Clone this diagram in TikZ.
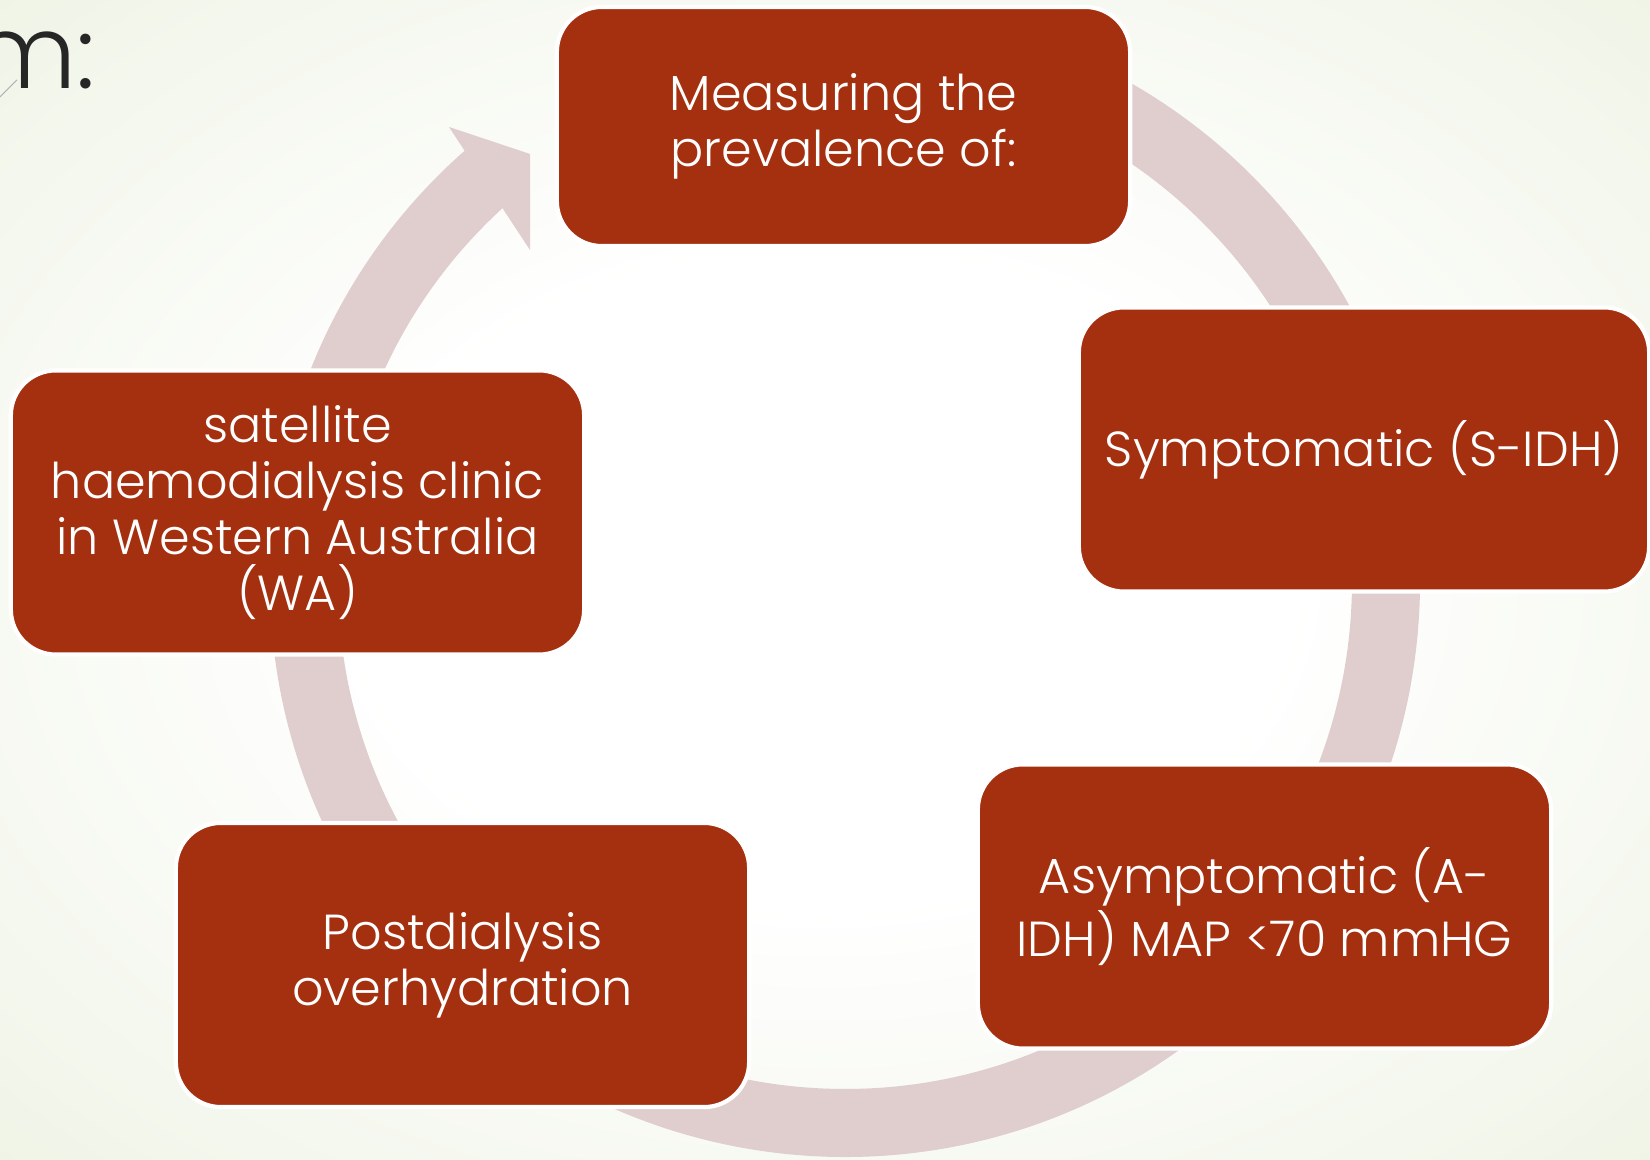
\documentclass[tikz,border=0pt]{standalone}
\usepackage{fontspec}
\setmainfont{Poppins Light}
\definecolor{boxred}{RGB}{165,48,16}
\definecolor{ringpink}{RGB}{224,205,205}
\definecolor{bggreen}{RGB}{226,234,208}
\definecolor{bgmid}{RGB}{238,243,228}
\definecolor{titlegray}{RGB}{38,38,38}
\pgfdeclareradialshading{bgglow}{\pgfpoint{0bp}{0bp}}{%
  color(0bp)=(white); color(14bp)=(white); color(38bp)=(bgmid); color(62bp)=(bggreen)}
\tikzset{
  stage/.style = {rectangle, rounded corners=0.45cm, fill=boxred,
                  draw=white, line width=1.2pt, text=white, align=center,
                  minimum width=5.73cm, minimum height=2.84cm, inner sep=0pt,
                  font=\fontsize{14}{16}\selectfont},
  ring/.style = {draw=ringpink, line width=0.68cm}
}
\begin{document}
\begin{tikzpicture}[x=0.01cm, y=0.01cm]
	\def \cx{845}
	\def \cy{578}
	\def \rr{541} % middle of the ring

	% Background
	\useasboundingbox (0,0) rectangle (1650,1160);
	\clip (0,0) rectangle (1650,1160);
	\shade[shading=bgglow] (0,0) rectangle (1650,1160);

	% Title (cut off)
	\draw[black!30, line width=0.3pt] (0,1063) -- (17,1080);
	\node[anchor=base east, text=titlegray, inner sep=0pt,
	      font=\fontsize{29}{30}\selectfont] (title) at (96,1071) {m:};

	% Ring
	\coordinate (centre) at (\cx,\cy);
	\draw[ring] (centre) ++(130:\rr) arc[start angle=130, end angle=440, radius=\rr];
	% Arrow head, cut before the first box
	\fill[ringpink] (449,1033) -- (530,1006) -- (530,910) -- cycle;

	% Stages
	\node[stage, minimum height=2.39cm] (meas) at (843.5,1033.5) {Measuring the\\prevalence of:};
	\node[stage, minimum width=5.70cm] (symp) at (1364,710.5) {Symptomatic (S-IDH)};
	\node[stage] (asymp) at (1264.5,253.5) {Asymptomatic (A-\\IDH) MAP <70 mmHG};
	\node[stage] (post)  at (462.5,195) {Postdialysis\\overhydration};
	\node[stage] (sat)   at (297.5,647.5) {satellite\\haemodialysis clinic\\in Western Australia\\(WA)};

\end{tikzpicture}
\end{document}
